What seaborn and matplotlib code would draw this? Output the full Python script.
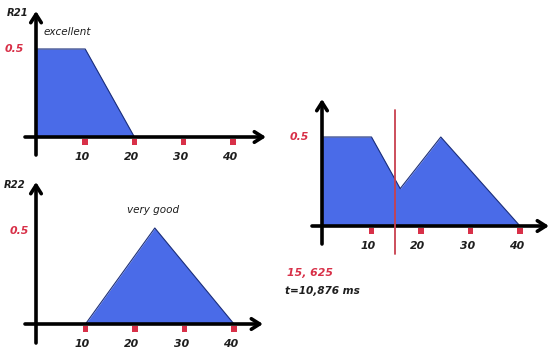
import matplotlib
matplotlib.use("Agg")
import matplotlib.pyplot as plt
import seaborn as sns

# ---- data ----
tick_values = [10, 20, 30, 40]
tick_labels = ["10", "20", "30", "40"]
r21_x = [0, 10, 20]
r21_y = [0.5, 0.5, 0.0]
r22_x = [10, 24, 40]
r22_y = [0.0, 0.5, 0.0]
agg_x = [0, 10, 15.8, 24, 40]
agg_y = [0.5, 0.5, 0.21, 0.5, 0.0]
cut_x = 14.8
cut_label = "15, 625"
time_label = "t=10,876 ms"

sns.set_style("white")
plt.rcParams['font.family'] = ['DejaVu Sans']

W, H = 550, 353
fig = plt.figure(figsize=(W / 100, H / 100), dpi=100)
fig.patch.set_facecolor("white")

BLUE = "#4a6be8"
EDGE = "#1c2f7a"
RED = "#d83048"
DARK = "#1e1e1e"


def panel(x0, y0, sx, sy):
    ax = fig.add_axes([0, 0, 1, 1])
    ax.set_xlim((0 - x0) / sx, (W - x0) / sx)
    ax.set_ylim((y0 - H) / sy, y0 / sy)
    ax.axis("off")
    ax.patch.set_alpha(0)
    px = lambda p: (p - x0) / sx
    py = lambda p: (y0 - p) / sy
    return ax, px, py


def draw_axes(ax, px, py, xa, xb, yb, yt):
    ap = dict(arrowstyle="->,head_length=0.6,head_width=0.38", lw=2.6,
              color="black", shrinkA=0, shrinkB=0)
    ax.annotate("", xy=(px(xb), 0), xytext=(px(xa), 0), arrowprops=ap)
    ax.annotate("", xy=(0, py(yt)), xytext=(0, py(yb)), arrowprops=ap)


def red_ticks(ax, sy):
    sns.scatterplot(x=tick_values, y=[-5.0 / sy] * len(tick_values), ax=ax,
                    marker="s", s=16, color=RED, edgecolor="none", legend=False,
                    zorder=5)


def tick_texts(ax, ty):
    for v, lab in zip(tick_values, tick_labels):
        ax.text(v - 0.6, ty, lab, ha="center", va="center", fontsize=7.8,
                fontweight="bold", fontstyle="italic", color=DARK)


def shape(ax, xs, ys):
    ax.fill_between(xs, ys, 0, color=BLUE, lw=0, zorder=1)
    sns.lineplot(x=xs, y=ys, ax=ax, sort=False, color=EDGE, lw=0.8, zorder=2)


# ---- top-left: R21 excellent ----
sx1, sy1 = 4.92, 176
ax1, px1, py1 = panel(36, 137, sx1, sy1)
shape(ax1, r21_x, r21_y)
draw_axes(ax1, px1, py1, 25, 266, 155, 11)
red_ticks(ax1, sy1)
tick_texts(ax1, py1(157))
ax1.text(px1(14), 0.5, "0.5", ha="center", va="center", fontsize=7.8,
         fontweight="bold", fontstyle="italic", color=RED)
ax1.text(px1(18), py1(13), "R21", ha="center", va="center", fontsize=7.2,
         fontweight="bold", fontstyle="italic", color=DARK)
ax1.text(px1(67), py1(32), "excellent", ha="center", va="center", fontsize=7.5,
         fontstyle="italic", color=DARK)

# ---- bottom-left: R22 very good ----
sx2, sy2 = 4.95, 192
ax2, px2, py2 = panel(36, 324, sx2, sy2)
shape(ax2, r22_x, r22_y)
draw_axes(ax2, px2, py2, 25, 263, 343, 182)
red_ticks(ax2, sy2)
tick_texts(ax2, py2(344))
ax2.text(px2(19), py2(231), "0.5", ha="center", va="center", fontsize=7.8,
         fontweight="bold", fontstyle="italic", color=RED)
ax2.text(px2(15), py2(185), "R22", ha="center", va="center", fontsize=7.2,
         fontweight="bold", fontstyle="italic", color=DARK)
ax2.text(px2(153), py2(210), "very good", ha="center", va="center", fontsize=7.5,
         fontstyle="italic", color=DARK)

# ---- right: aggregated ----
sx3, sy3 = 4.95, 178
ax3, px3, py3 = panel(322, 226, sx3, sy3)
shape(ax3, agg_x, agg_y)
draw_axes(ax3, px3, py3, 312, 549, 244, 99)
red_ticks(ax3, sy3)
tick_texts(ax3, py3(246))
ax3.text(px3(299), 0.5, "0.5", ha="center", va="center", fontsize=7.8,
         fontweight="bold", fontstyle="italic", color=RED)
ax3.plot([cut_x, cut_x], [py3(110), py3(254)], color="#c8404e", lw=1.3, zorder=6)
ax3.text(px3(310), py3(273), cut_label, ha="center", va="center", fontsize=7.8,
         fontweight="bold", fontstyle="italic", color=RED)
ax3.text(px3(322), py3(291), time_label, ha="center", va="center", fontsize=7.6,
         fontweight="bold", fontstyle="italic", color=DARK)

fig.savefig("out.png", dpi=100, facecolor="white")
